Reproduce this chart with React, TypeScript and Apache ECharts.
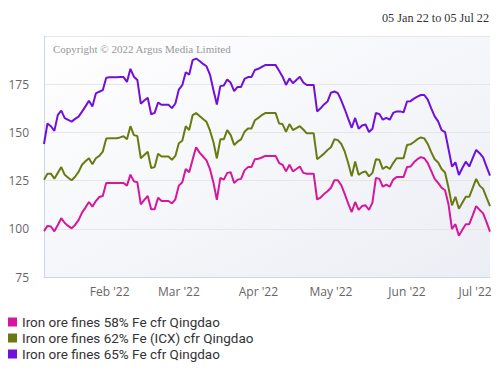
import React, { useEffect, useRef } from "react";
import * as echarts from "echarts";

const seriesNames = [
  "Iron ore fines 58% Fe cfr Qingdao",
  "Iron ore fines 62% Fe (ICX) cfr Qingdao",
  "Iron ore fines 65% Fe cfr Qingdao",
];

const fe58 = [
  98.8, 101.5, 101.2, 98.7, 102, 105.5, 103, 101.5, 100.2, 102,
  104.5, 108.4, 111, 113.9, 111.5, 114.4, 116.5, 117, 123.8, 123.8,
  123.8, 123.8, 123.8, 123.8, 122.4, 128.1, 124.6, 124.1, 112.7, 115,
  117, 110.1, 110.1, 116.1, 114.4, 114.4, 114.4, 113.2, 115.3, 122.4,
  124.1, 131, 129.3, 136, 142.3, 139.5, 137.5, 135.5, 131, 124,
  115, 126.4, 125.5, 129, 129.3, 123.8, 125.5, 125.9, 130.3, 132,
  132, 136.1, 136.3, 137, 137.8, 137.8, 137.8, 137.8, 134.1, 133.2,
  129.8, 133.2, 129.8, 131, 132.3, 129, 128.6, 128.6, 128.6, 115.2,
  116.2, 118, 119.5, 121.3, 125.2, 125.2, 122.5, 118, 113, 108.7,
  113.9, 109.8, 111.8, 112.2, 109.8, 113.6, 126.4, 125.9, 121.8, 122.9,
  121.8, 125.5, 126.9, 126.9, 126.9, 132, 132.3, 134.5, 136.1, 137.2,
  136.6, 134.1, 130, 125.9, 123.8, 121.3, 120, 112.7, 99.9, 102.4,
  96.4, 99.5, 102.4, 102.4, 107, 111.8, 109.8, 108, 103.5, 98.5,
];

const fe62 = [
  125.5, 128.6, 128.6, 126, 129, 132, 128, 126.5, 125.2, 127,
  129.5, 133.2, 135, 136.6, 133.5, 136.6, 137.8, 140, 146.9, 147,
  147, 147, 147.4, 148, 146.4, 153.2, 148.6, 148.1, 136.6, 138.3,
  140, 131.5, 132, 138.9, 137.5, 137.5, 137.5, 135.8, 137.8, 144.4,
  145.7, 153.2, 151.2, 159, 160, 158.5, 157, 155.5, 151, 145,
  136.5, 146.4, 146.4, 151.2, 148.6, 143.5, 145.2, 146.4, 150.3, 152,
  152, 156.3, 157.5, 159, 160, 160, 160, 160, 154.6, 154.3,
  150.3, 154.3, 151.2, 152.2, 153.2, 151.5, 149.5, 149.5, 149.5, 136.1,
  137.5, 139, 140.9, 142.3, 146.4, 146, 144, 140, 134, 127.2,
  134.9, 128, 129.2, 129.8, 127.2, 129, 136.1, 135.8, 131, 132.3,
  131, 134.1, 136.6, 136.6, 136.6, 143.5, 143.8, 145, 146.5, 147.4,
  146.9, 144, 139.8, 136.1, 134.4, 131, 129.2, 121.3, 112.2, 116.6,
  110.4, 113.5, 116.6, 116.6, 121.2, 125.9, 122.4, 120.7, 116.2, 111.8,
];

const fe65 = [
  144, 154.6, 153.2, 150.8, 159.1, 161.3, 157.4, 156.5, 155.6, 157,
  158.2, 160.8, 163.5, 166.4, 163.4, 170.2, 171.1, 171.9, 178.4, 178.6,
  178.6, 178.6, 178.7, 178.7, 176.2, 183, 178.9, 177.2, 164.9, 166.5,
  168, 159.4, 160.1, 165.5, 164.3, 164.3, 164.3, 162.6, 165, 172.2,
  174.5, 181.2, 180, 187.5, 188.3, 187, 185.5, 184.3, 180, 172,
  164.5, 174, 174.3, 177.4, 175.7, 171.4, 173.6, 173.6, 177.7, 178.7,
  178.7, 182.4, 183, 184, 184.9, 184.9, 184.9, 184.9, 182, 178.9,
  174.6, 178, 175.5, 177.2, 178.9, 175.9, 174.6, 174.6, 174.6, 160.9,
  162.5, 164.5, 166, 170.6, 171.2, 170.4, 166.5, 162, 157, 152.4,
  157.5, 151.9, 153.6, 154.1, 150.2, 151.9, 160.1, 159.5, 156.6, 157.5,
  156.6, 160.1, 160.9, 160.9, 160.4, 166, 166.2, 167.5, 168.6, 169.4,
  169.4, 167, 162.5, 158.3, 155.7, 151.2, 150.2, 141.4, 132.3, 134.5,
  127.9, 131.5, 134.8, 132.3, 136.6, 140.9, 139.2, 137, 132.3, 127.6,
];

const colors = ["#d4179d", "#6b7a10", "#7010d8"];
const yTicks = { min: 75, max: 200, interval: 25 };
const startDate = "2022-01-05";
const endDate = "2022-07-05";
const monthNames = ["Jan", "Feb", "Mar", "Apr", "May", "Jun", "Jul", "Aug", "Sep", "Oct", "Nov", "Dec"];

function weekdays(from: string, to: string): string[] {
  const out: string[] = [];
  const d = new Date(from + "T00:00:00Z");
  const end = new Date(to + "T00:00:00Z");
  while (d <= end) {
    const wd = d.getUTCDay();
    if (wd !== 0 && wd !== 6) out.push(d.toISOString().slice(0, 10));
    d.setUTCDate(d.getUTCDate() + 1);
  }
  return out;
}

const dates = weekdays(startDate, endDate);
const lastMonth = endDate.slice(5, 7);

export default function App() {
  const ref = useRef<HTMLDivElement>(null);
  useEffect(() => {
    if (!ref.current) return;
    const chart = echarts.init(ref.current, undefined, { renderer: "svg" });
    const sans = "'Open Sans', sans-serif";
    const serif = "'Liberation Serif', serif";
    chart.setOption({
      animation: false,
      color: colors,
      textStyle: { fontFamily: sans },
      title: [
        {
          text: "05 Jan 22 to 05 Jul 22",
          right: 11,
          top: 12,
          padding: 0,
          textStyle: { fontFamily: serif, fontSize: 12.2, fontWeight: "normal", color: "#333333" },
        },
        {
          text: "Copyright © 2022 Argus Media Limited",
          left: 53,
          top: 43,
          padding: 0,
          textStyle: { fontFamily: serif, fontSize: 11, fontWeight: "normal", color: "#999999" },
        },
      ],
      grid: {
        left: 44,
        right: 10,
        top: 36,
        bottom: 108,
        show: true,
        borderWidth: 0,
        backgroundColor: new echarts.graphic.LinearGradient(0, 0, 1, 1, [
          { offset: 0, color: "#ffffff" },
          { offset: 1, color: "#eceef5" },
        ]),
      },
      legend: {
        orient: "vertical",
        left: 8,
        top: 314,
        padding: 0,
        itemWidth: 9,
        itemHeight: 9,
        itemGap: 0,
        itemStyle: { borderWidth: 0 },
        icon: "rect",
        data: seriesNames,
        textStyle: { fontFamily: "Roboto, sans-serif", fontSize: 13.5, color: "#333333", lineHeight: 16 },
      },
      xAxis: {
        type: "category",
        data: dates,
        boundaryGap: false,
        axisLine: { show: true, lineStyle: { color: "#ccd6eb", width: 1 } },
        axisTick: { show: false },
        splitLine: { show: false },
        axisLabel: {
          color: "#666666",
          fontSize: 12,
          fontFamily: sans,
          margin: 8,
          interval: (i: number, v: string) => i > 0 && v.slice(5, 7) !== dates[i - 1].slice(5, 7),
          formatter: (v: string) => {
            const m = v.slice(5, 7);
            const t = monthNames[parseInt(m, 10) - 1] + " '" + v.slice(2, 4);
            return m === lastMonth ? "{r|" + t + "}" : t;
          },
          rich: {
            r: { color: "#666666", fontSize: 12, fontFamily: sans, padding: [0, 16, 0, 0] },
          },
        },
      },
      yAxis: {
        type: "value",
        min: yTicks.min,
        max: yTicks.max,
        interval: yTicks.interval,
        axisLine: { show: true, lineStyle: { color: "#ccd6eb", width: 1 } },
        axisTick: { show: false },
        splitLine: { show: true, lineStyle: { color: "#e6e6e6", width: 1 } },
        axisLabel: { color: "#666666", fontSize: 12, fontFamily: sans, margin: 15, showMaxLabel: false },
      },
      series: [fe58, fe62, fe65].map((d, i) => ({
        name: seriesNames[i],
        type: "line",
        data: d,
        showSymbol: false,
        symbol: "none",
        lineStyle: { width: 2, color: colors[i] },
        itemStyle: { color: colors[i] },
        z: 3 + i,
      })),
    });
    return () => chart.dispose();
  }, []);
  return <div ref={ref} style={{ width: 500, height: 385, margin: -8 }} />;
}
